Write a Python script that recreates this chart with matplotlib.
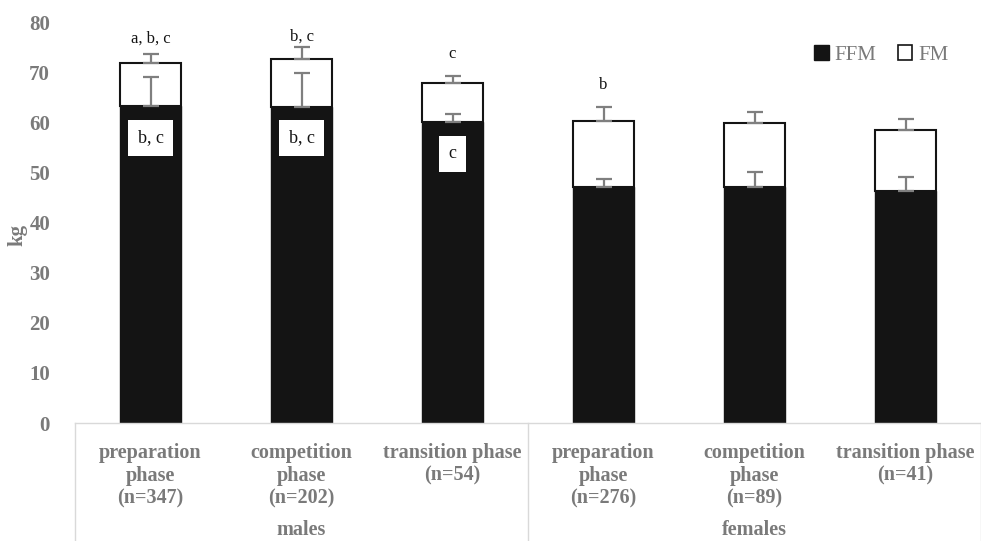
import matplotlib
matplotlib.use("Agg")
import matplotlib.pyplot as plt
import matplotlib.transforms as mtransforms
from matplotlib.patches import Patch
import numpy as np

# ---- data ----
categories = ["preparation\nphase\n(n=347)", "competition\nphase\n(n=202)", "transition phase\n(n=54)",
              "preparation\nphase\n(n=276)", "competition\nphase\n(n=89)", "transition phase\n(n=41)"]
groups = ["males", "females"]
ffm = [63.3, 63.1, 60.0, 47.2, 47.2, 46.4]
ffm_err = [5.7, 6.8, 1.7, 1.5, 2.9, 2.8]
total = [71.8, 72.6, 67.8, 60.3, 59.9, 58.4]
fm = [t - f for t, f in zip(total, ffm)]
fm_err = [1.8, 2.4, 1.5, 2.8, 2.1, 2.3]
top_letters = ["a, b, c", "b, c", "c", "b", "", ""]
top_letter_y = [76.8, 77.2, 73.6, 67.5, 0, 0]
box_letters = ["b, c", "b, c", "c", "", "", ""]
box_letter_y = [56.9, 56.9, 53.7, 0, 0, 0]
yticks = [0, 10, 20, 30, 40, 50, 60, 70, 80]

serif = ["Liberation Serif", "DejaVu Serif"]
gray = "#7a7a7a"

fig = plt.figure(figsize=(9.81, 5.41), dpi=100)
ax = fig.add_axes([0.0765, 0.218, 0.9235, 0.741])

x = np.arange(len(categories))
w = 0.4
ax.bar(x, ffm, w, color="#141414", edgecolor="#141414", linewidth=1, zorder=2)
ax.bar(x, fm, w, bottom=ffm, color="white", edgecolor="#141414", linewidth=1.5, zorder=2)

# error bars (upper only)
ax.errorbar(x, ffm, yerr=[np.zeros(len(x)), ffm_err], fmt="none", ecolor="#7f7f7f",
            elinewidth=1.6, capsize=6, capthick=1.6, zorder=3)
ax.errorbar(x, total, yerr=[np.zeros(len(x)), fm_err], fmt="none", ecolor="#7f7f7f",
            elinewidth=1.6, capsize=6, capthick=1.6, zorder=3)

for i in range(len(x)):
    if top_letters[i]:
        ax.text(x[i], top_letter_y[i], top_letters[i], ha="center", va="center",
                fontsize=12, family=serif, color="#141414", zorder=4)
    if box_letters[i]:
        ax.text(x[i], box_letter_y[i], box_letters[i], ha="center", va="center",
                fontsize=13, family=serif, color="#141414", zorder=4,
                bbox=dict(boxstyle="square,pad=0.55", fc="white", ec="none"))

ax.set_xlim(-0.5, len(x) - 0.5)
ax.set_ylim(0, 80)
ax.set_yticks(yticks)
ax.set_yticklabels([str(v) for v in yticks], fontsize=15, fontweight="bold", family=serif, color=gray)
ax.tick_params(axis="y", length=0, pad=18)
ax.set_xticks(x)
ax.set_xticklabels(categories, fontsize=14.5, fontweight="bold", family=serif, color=gray,
                   linespacing=1.2)
ax.tick_params(axis="x", length=0, pad=14)
for s in ["top", "right", "left"]:
    ax.spines[s].set_visible(False)
ax.spines["bottom"].set_color("#d9d9d9")
ax.spines["bottom"].set_linewidth(1)

ax.set_ylabel("kg", fontsize=15, fontweight="bold", family=serif, color=gray)
ax.yaxis.set_label_coords(-0.053, 0.47)

# group separators and labels
trans = mtransforms.blended_transform_factory(ax.transData, ax.transAxes)
for xs in [-0.5, 2.5, 5.5]:
    ax.plot([xs, xs], [0, -0.3], transform=trans, color="#d9d9d9", lw=1, clip_on=False)
for gi, g in enumerate(groups):
    ax.text(1 + 3 * gi, -0.266, g, transform=trans, ha="center", va="center",
            fontsize=14.5, fontweight="bold", family=serif, color=gray)

# legend
handles = [Patch(fc="#141414", ec="#141414", label="FFM"),
           Patch(fc="white", ec="#141414", lw=1.2, label="FM")]
ax.legend(handles=handles, loc="upper right", bbox_to_anchor=(0.985, 0.99), ncol=2,
          frameon=False, handlelength=0.7, handleheight=0.7, handletextpad=0.3,
          columnspacing=1.0, prop={"family": serif, "size": 15}, labelcolor=gray)

fig.savefig("out.png", dpi=100)
